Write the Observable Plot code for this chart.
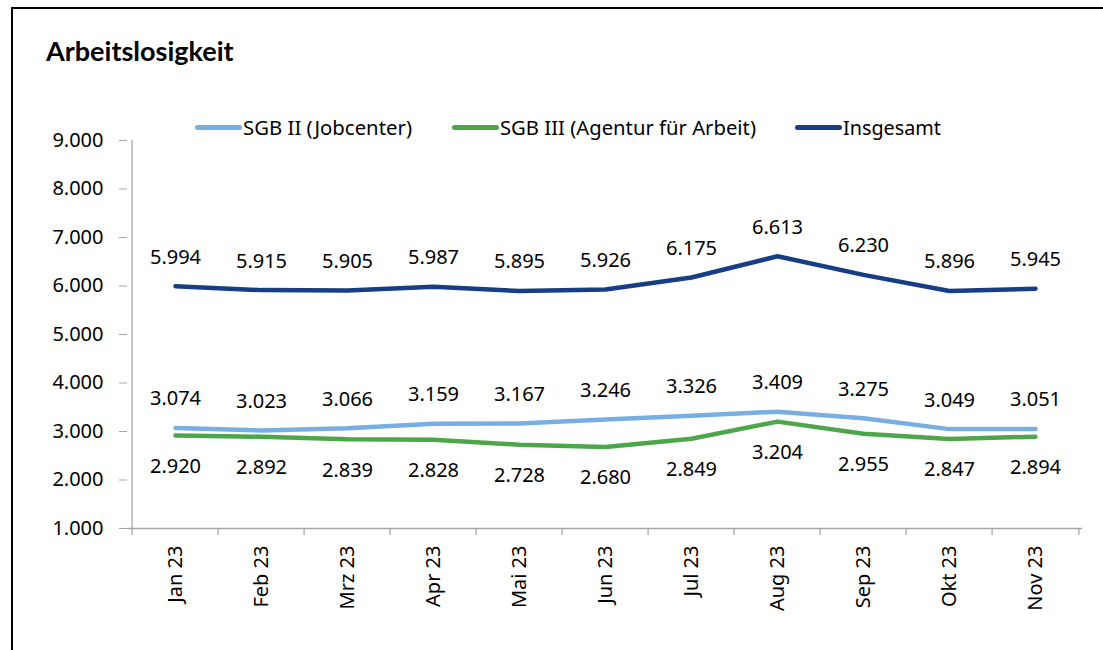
<!DOCTYPE html>
<html>
<head>
<meta charset="utf-8">
<script src="https://cdn.jsdelivr.net/npm/d3@7"></script>
<script src="https://cdn.jsdelivr.net/npm/@observablehq/plot@0.6"></script>
<style>
  html, body { margin: 0; padding: 0; background: #fff; }
  #wrap { position: relative; width: 1103px; height: 650px; overflow: hidden; background: #fff; }
  #frame { position: absolute; left: 11px; top: 7px; width: 1100px; height: 660px; border-top: 2px solid #000; border-left: 2px solid #000; box-sizing: border-box; }
  #title { position: absolute; left: 46px; top: 35px; font-family: Lato, "Noto Sans", sans-serif; font-weight: 700; font-size: 27px; color: #000; line-height: 32px; }
  .leg { position: absolute; top: 113px; height: 28px; display: flex; align-items: center; font-family: "Noto Sans", sans-serif; font-size: 20px; color: #000; white-space: nowrap; }
  .sw { width: 47px; height: 5px; border-radius: 3px; margin-right: 1px; flex: none; }
  .lt { display: inline-block; transform-origin: 0 50%; }
  #chart { position: absolute; left: 0; top: 0; }
</style>
</head>
<body>
<div id="wrap">
  <div id="frame"></div>
  <div id="title">Arbeitslosigkeit</div>
  <div id="legend"></div>
  <div id="chart"></div>
</div>
<script>
const months = ["Jan 23", "Feb 23", "Mrz 23", "Apr 23", "Mai 23", "Jun 23", "Jul 23", "Aug 23", "Sep 23", "Okt 23", "Nov 23"];
const sgb2 = [3074, 3023, 3066, 3159, 3167, 3246, 3326, 3409, 3275, 3049, 3051];
const sgb3 = [2920, 2892, 2839, 2828, 2728, 2680, 2849, 3204, 2955, 2847, 2894];
const total = [5994, 5915, 5905, 5987, 5895, 5926, 6175, 6613, 6230, 5896, 5945];
const seriesNames = ["SGB II (Jobcenter)", "SGB III (Agentur für Arbeit)", "Insgesamt"];
const seriesColors = ["#78aee2", "#4ea64b", "#173d84"];
const yTicks = [1000, 2000, 3000, 4000, 5000, 6000, 7000, 8000, 9000];

const de = d3.formatLocale({decimal: ",", thousands: ".", grouping: [3], currency: ["", " €"]});
const fmt = de.format(",");

const seriesValues = [sgb2, sgb3, total];
const data = [];
seriesNames.forEach((s, k) => months.forEach((m, i) => data.push({series: s, month: m, value: seriesValues[k][i]})));

// legend: fit each label to the reference width
const legendX = [195, 452, 795];
const legendTextW = [169, 256, 98];
const legend = document.getElementById("legend");
seriesNames.forEach((s, k) => {
  const d = document.createElement("div");
  d.className = "leg";
  d.style.left = legendX[k] + "px";
  d.innerHTML = `<span class="sw" style="background:${seriesColors[k]}"></span><span class="lt">${s}</span>`;
  legend.appendChild(d);
  const t = d.querySelector(".lt");
  const w = t.getBoundingClientRect().width;
  t.style.transform = `scaleX(${legendTextW[k] / w})`;
});

const W = 1103, H = 650;
const mL = 127, mR = 21, mT = 140, mB = 122;
const bw = (W - mL - mR) / months.length;
const plotH = H - mT - mB;
const gray = "#a6a6a6";

const chart = Plot.plot({
  width: W,
  height: H,
  marginLeft: mL,
  marginRight: mR,
  marginTop: mT,
  marginBottom: mB,
  style: {fontFamily: "'Noto Sans', sans-serif", fontSize: "20px", color: "#000", background: "transparent"},
  x: {type: "band", domain: months, padding: 0},
  y: {domain: [1000, 9000]},
  color: {domain: seriesNames, range: seriesColors},
  marks: [
    Plot.ruleY([1000], {stroke: gray, strokeWidth: 1.3}),
    Plot.ruleX([months[0]], {x: d => d, dx: -bw / 2, stroke: gray, strokeWidth: 1.3}),
    Plot.ruleX(months, {x: d => d, dx: -bw / 2, insetTop: plotH, insetBottom: -7, stroke: gray, strokeWidth: 1.3}),
    Plot.ruleX([months[months.length - 1]], {x: d => d, dx: bw / 2, insetTop: plotH, insetBottom: -7, stroke: gray, strokeWidth: 1.3}),
    Plot.axisY({ticks: yTicks, tickFormat: fmt, tickSize: 8, tickPadding: 16, stroke: gray, fill: "#000", label: null}),
    Plot.axisX({tickSize: 0, tickPadding: 17, tickRotate: -90, fill: "#000", label: null}),
    Plot.line(data, {x: "month", y: "value", z: "series", stroke: "series", strokeWidth: 4.5, strokeLinecap: "round", strokeLinejoin: "round"}),
    Plot.text(data.filter(d => d.series !== seriesNames[1]), {x: "month", y: "value", text: d => fmt(d.value), dy: -29, fill: "#000"}),
    Plot.text(data.filter(d => d.series === seriesNames[1]), {x: "month", y: "value", text: d => fmt(d.value), dy: 31, fill: "#000"})
  ]
});
document.getElementById("chart").appendChild(chart);
</script>
</body>
</html>
